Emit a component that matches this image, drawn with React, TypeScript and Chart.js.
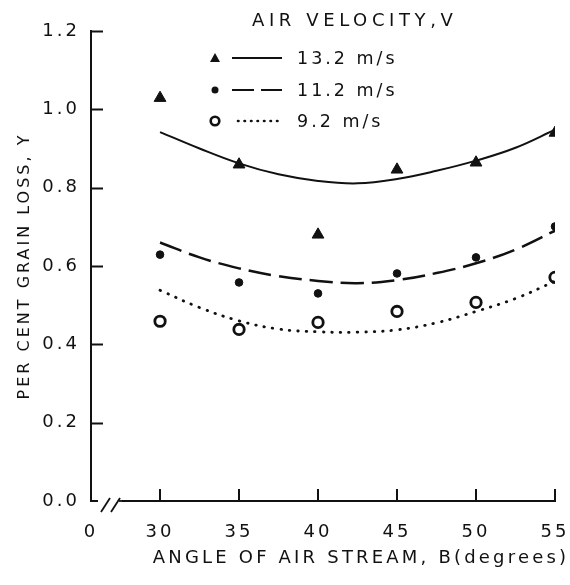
import React, { useEffect, useRef } from "react";
import { Chart, registerables } from "chart.js";

Chart.register(...registerables);

// ---- data ----
const ANGLES = [30, 35, 40, 45, 50, 55];
const LOSS_V132 = [1.029, 0.859, 0.68, 0.846, 0.864, 0.94];
const LOSS_V112 = [0.629, 0.558, 0.53, 0.581, 0.622, 0.701];
const LOSS_V92 = [0.459, 0.438, 0.456, 0.484, 0.507, 0.571];

const CURVE_ANGLES = [30, 32.5, 35, 37.5, 40, 42.5, 45, 47.5, 50, 52.5, 55];
const FIT_V132 = [0.942, 0.9, 0.862, 0.834, 0.817, 0.811, 0.822, 0.843, 0.869, 0.902, 0.948];
const FIT_V112 = [0.66, 0.622, 0.594, 0.574, 0.562, 0.556, 0.564, 0.582, 0.607, 0.642, 0.69];
const FIT_V92 = [0.538, 0.494, 0.46, 0.439, 0.432, 0.431, 0.437, 0.455, 0.484, 0.517, 0.561];

const SERIES_LABELS = ["13.2 m/s", "11.2 m/s", "9.2 m/s"];
const LEGEND_TITLE = "AIR VELOCITY,V";
const X_TITLE = "ANGLE OF AIR STREAM, B(degrees)";
const Y_TITLE = "PER CENT GRAIN LOSS, Y";
const X_TICKS = [30, 35, 40, 45, 50, 55];
const X_BREAK_LABEL = "0";
const Y_TICKS = [0, 0.2, 0.4, 0.6, 0.8, 1.0, 1.2];
const X_MIN = 25.63;
const X_MAX = 55;
const Y_MIN = 0;
const Y_MAX = 1.2;

const FONT = "'DejaVu Sans', 'Liberation Sans', sans-serif";
const INK = "#111";

const toPts = (xs: number[], ys: number[]) => xs.map((x, i) => ({ x, y: ys[i] }));

function strokeLine(ctx: CanvasRenderingContext2D, x1: number, y1: number, x2: number, y2: number) {
  ctx.beginPath();
  ctx.moveTo(x1, y1);
  ctx.lineTo(x2, y2);
  ctx.stroke();
}

const paperPlugin = {
  id: "paper",
  beforeDraw(chart: any) {
    const ctx = chart.ctx as CanvasRenderingContext2D;
    ctx.save();
    ctx.fillStyle = "#fff";
    ctx.fillRect(0, 0, chart.width, chart.height);
    ctx.restore();
    (ctx as any).letterSpacing = "3px";
  },
  afterDraw(chart: any) {
    const ctx = chart.ctx as CanvasRenderingContext2D;
    const { chartArea, scales } = chart;
    const xs = scales.x;
    const ys = scales.y;
    ctx.save();
    ctx.strokeStyle = INK;
    ctx.lineWidth = 2;
    ctx.lineCap = "butt";
    // inward tick marks
    Y_TICKS.forEach((v) => {
      if (v === Y_MIN) return;
      const py = Math.round(ys.getPixelForValue(v)) + 0.5;
      strokeLine(ctx, chartArea.left, py, chartArea.left + 12, py);
    });
    X_TICKS.forEach((v) => {
      const px = Math.round(xs.getPixelForValue(v));
      strokeLine(ctx, px, chartArea.bottom, px, chartArea.bottom - 12);
    });
    // axis break
    const bx = chartArea.left;
    const by = chartArea.bottom;
    ctx.fillStyle = "#fff";
    ctx.fillRect(bx + 7, by - 4, 24, 8);
    ctx.lineWidth = 1.8;
    strokeLine(ctx, bx + 10, by + 11, bx + 19, by - 3);
    strokeLine(ctx, bx + 20, by + 11, bx + 29, by - 3);
    strokeLine(ctx, bx + 28, by, bx + 34, by);

    // x title
    ctx.fillStyle = INK;
    (ctx as any).letterSpacing = "3.2px";
    ctx.font = `18px ${FONT}`;
    ctx.textAlign = "center";
    ctx.textBaseline = "middle";
    ctx.fillText(X_TITLE, 361, 558);

    // legend
    ctx.textAlign = "left";
    (ctx as any).letterSpacing = "4.6px";
    ctx.font = `18px ${FONT}`;
    ctx.fillText(LEGEND_TITLE, 252, 21);
    (ctx as any).letterSpacing = "3px";
    ctx.font = `17.5px ${FONT}`;
    const rows = [58, 90, 121];
    const mx = 215;
    rows.forEach((ry, i) => {
      ctx.fillStyle = INK;
      ctx.strokeStyle = INK;
      if (i === 0) {
        ctx.beginPath();
        ctx.moveTo(mx, ry - 5);
        ctx.lineTo(mx + 5, ry + 4);
        ctx.lineTo(mx - 5, ry + 4);
        ctx.closePath();
        ctx.fill();
      } else if (i === 1) {
        ctx.beginPath();
        ctx.arc(mx, ry, 3.5, 0, Math.PI * 2);
        ctx.fill();
      } else {
        ctx.lineWidth = 2.6;
        ctx.beginPath();
        ctx.arc(mx, ry, 4.3, 0, Math.PI * 2);
        ctx.stroke();
      }
      ctx.lineWidth = i === 2 ? 2.6 : 2;
      if (i === 0) ctx.setLineDash([]);
      if (i === 1) ctx.setLineDash([22, 7]);
      if (i === 2) {
        ctx.setLineDash([0.5, 6]);
        ctx.lineCap = "round";
      }
      strokeLine(ctx, i === 2 ? 238 : 232, ry, 282, ry);
      ctx.setLineDash([]);
      ctx.lineCap = "butt";
      ctx.fillText(SERIES_LABELS[i], 297, ry + 1);
    });
    ctx.restore();
  },
};

export default function App() {
  const ref = useRef<HTMLCanvasElement | null>(null);

  useEffect(() => {
    document.body.style.margin = "0";
    const canvas = ref.current;
    if (!canvas) return;
    Chart.defaults.font.family = FONT;
    Chart.defaults.color = INK;

    const chart = new Chart(canvas, {
      type: "scatter",
      data: {
        datasets: [
          {
            label: SERIES_LABELS[0],
            data: toPts(ANGLES, LOSS_V132),
            pointStyle: "triangle",
            pointRadius: 6.8,
            backgroundColor: INK,
            borderColor: INK,
            borderWidth: 1,
            showLine: false,
            order: 0,
          },
          {
            label: SERIES_LABELS[1],
            data: toPts(ANGLES, LOSS_V112),
            pointStyle: "circle",
            pointRadius: 3.8,
            backgroundColor: INK,
            borderColor: INK,
            borderWidth: 1,
            showLine: false,
            order: 0,
          },
          {
            label: SERIES_LABELS[2],
            data: toPts(ANGLES, LOSS_V92),
            pointStyle: "circle",
            pointRadius: 5.2,
            backgroundColor: "rgba(255,255,255,0)",
            borderColor: INK,
            borderWidth: 2.8,
            showLine: false,
            order: 0,
          },
          {
            label: SERIES_LABELS[0] + " fit",
            data: toPts(CURVE_ANGLES, FIT_V132),
            showLine: true,
            pointRadius: 0,
            borderColor: INK,
            borderWidth: 2,
            tension: 0.4,
            fill: false,
            order: 1,
          },
          {
            label: SERIES_LABELS[1] + " fit",
            data: toPts(CURVE_ANGLES, FIT_V112),
            showLine: true,
            pointRadius: 0,
            borderColor: INK,
            borderWidth: 2.5,
            borderDash: [23, 8],
            tension: 0.4,
            fill: false,
            order: 1,
          },
          {
            label: SERIES_LABELS[2] + " fit",
            data: toPts(CURVE_ANGLES, FIT_V92),
            showLine: true,
            pointRadius: 0,
            borderColor: INK,
            borderWidth: 2.8,
            borderDash: [0.5, 8],
            borderCapStyle: "round",
            tension: 0.4,
            fill: false,
            order: 1,
          },
        ],
      },
      options: {
        animation: false,
        responsive: false,
        devicePixelRatio: 1,
        layout: { padding: { left: 0, top: 31, right: 15, bottom: 0 } },
        plugins: {
          legend: { display: false },
          tooltip: { enabled: false },
          title: { display: false },
        },
        scales: {
          x: {
            type: "linear",
            min: X_MIN,
            max: X_MAX,
            grid: { display: false, drawTicks: false },
            border: { display: true, color: INK, width: 2 },
            afterBuildTicks: (s: any) => {
              s.ticks = [X_MIN, ...X_TICKS].map((v) => ({ value: v }));
            },
            afterFit: (s: any) => {
              s.height = 84;
              s.paddingLeft = 0;
              s.paddingRight = 0;
              s.paddingTop = 0;
              s.paddingBottom = 0;
            },
            ticks: {
              autoSkip: false,
              maxRotation: 0,
              minRotation: 0,
              padding: 21,
              color: INK,
              font: { size: 18, family: FONT },
              callback: (v: any, i: number) => (i === 0 ? X_BREAK_LABEL : String(v)),
            },
          },
          y: {
            type: "linear",
            min: Y_MIN,
            max: Y_MAX,
            grid: { display: false, drawTicks: false },
            border: { display: true, color: INK, width: 2 },
            afterBuildTicks: (s: any) => {
              s.ticks = Y_TICKS.map((v) => ({ value: v }));
            },
            afterFit: (s: any) => {
              s.width = 91;
              s.paddingLeft = 0;
              s.paddingRight = 0;
              s.paddingTop = 0;
              s.paddingBottom = 0;
            },
            title: {
              display: true,
              text: Y_TITLE,
              color: INK,
              font: { size: 16, family: FONT },
              padding: { top: 15, bottom: 0 },
            },
            ticks: {
              padding: 11,
              color: INK,
              font: { size: 18, family: FONT },
              callback: (v: any) => Number(v).toFixed(1),
            },
          },
        },
      },
      plugins: [paperPlugin],
    } as any);

    return () => chart.destroy();
  }, []);

  return (
    <div style={{ width: 570, height: 585 }}>
      <canvas ref={ref} width={570} height={585} style={{ display: "block" }} />
    </div>
  );
}
